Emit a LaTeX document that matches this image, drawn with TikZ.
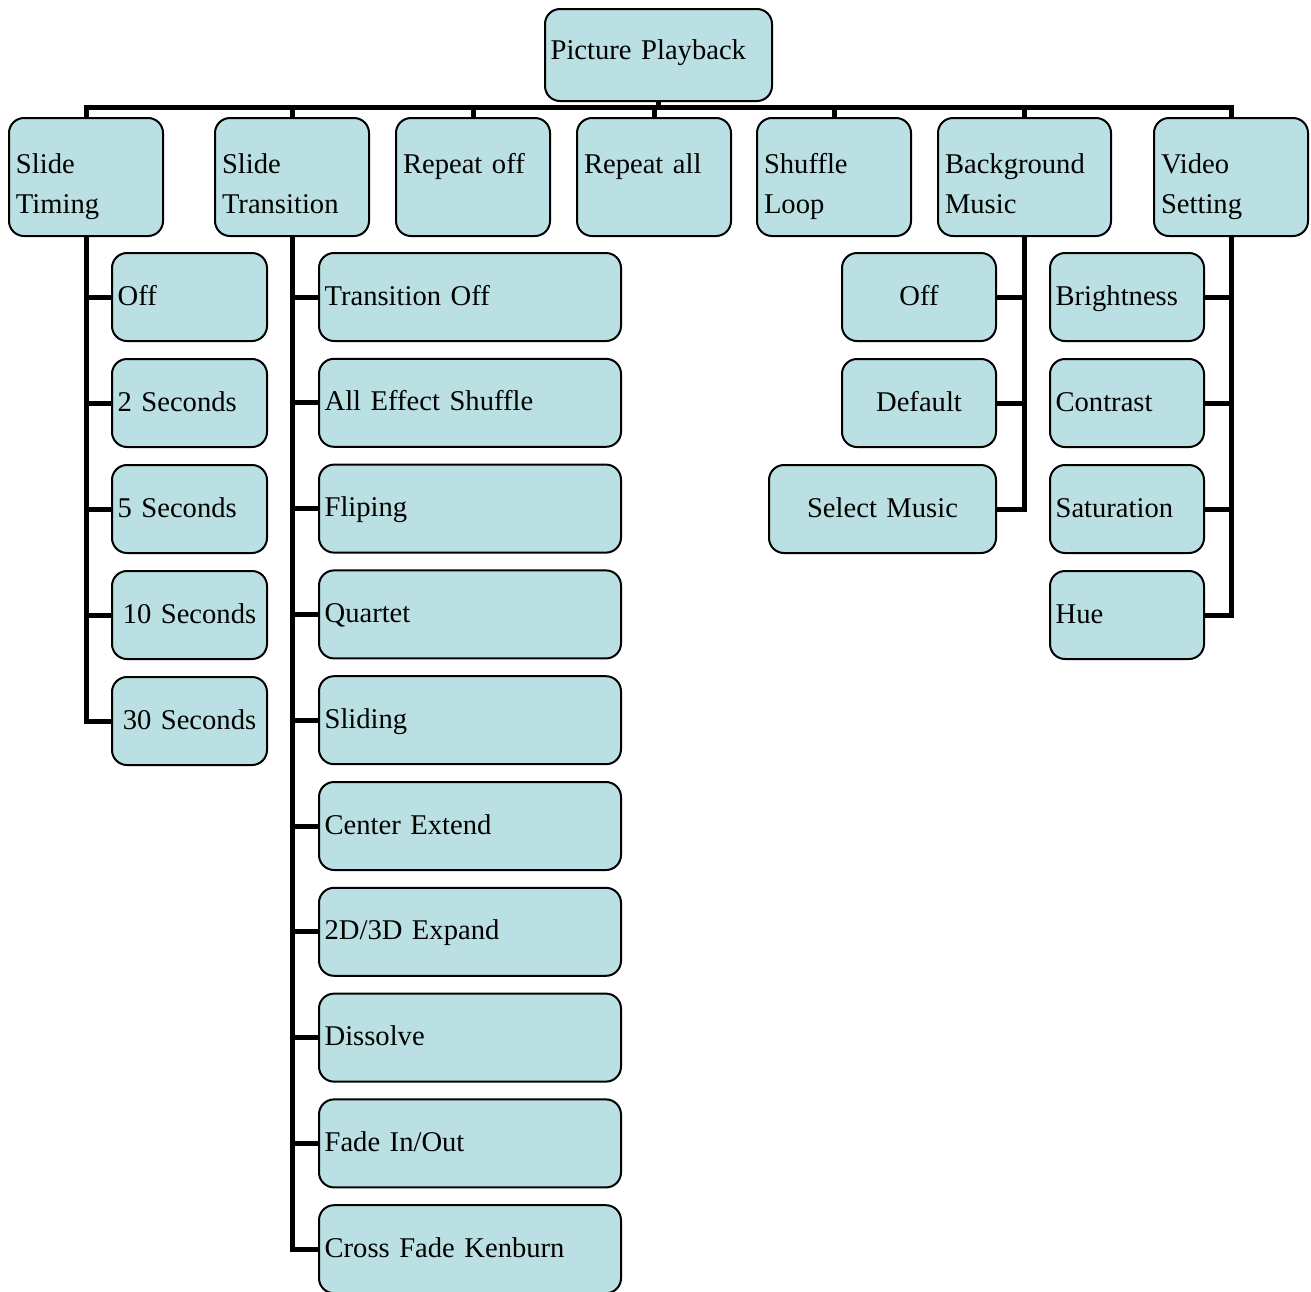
\documentclass[tikz,border=0pt]{standalone}
\usepackage{fontspec}
\setmainfont{Liberation Serif}
\definecolor{menufill}{RGB}{186,224,227}

\begin{document}
\begin{tikzpicture}[x=0.5pt,y=-0.5pt,
  menu/.style={draw=black,fill=menufill,line width=1pt,rounded corners=7.5pt,anchor=north west,
    inner xsep=2.8pt,inner ysep=0pt,font=\fontsize{14.3pt}{20pt}\selectfont},
  head/.style={menu,text width=#1,align=left,inner xsep=3.5pt,text height=27.5pt,text depth=31.5pt},
  item/.style={menu,text width=#1,text height=26pt,text depth=18pt},
  link/.style={line width=2.5pt}]
  \useasboundingbox (0,0) rectangle (1311,1291);
  % top level
  \node[menu,text width=107.9pt,align=left,text height=25pt,text depth=21pt] (root) at (544,8) {Picture Playback};
  \node[head=70pt] (timing) at (8,117) {Slide\\Timing};
  \node[head=70pt] (trans) at (214,117) {Slide\\Transition};
  \node[head=70pt] (repoff) at (395,117) {Repeat off};
  \node[head=70pt] (repall) at (576,117) {Repeat all};
  \node[head=70pt] (shuffle) at (756,117) {Shuffle\\Loop};
  \node[head=79.5pt] (music) at (937,117) {Background\\Music};
  \node[head=70pt] (video) at (1153,117) {Video\\Setting};
  \coordinate (bus) at (0,107);
  \foreach \n in {timing,trans,repoff,repall,shuffle,music,video}
    \draw[link] (root.south) -- (root.south |- bus) -| (\n.north);
  % slide timing
  \foreach \a/\t [count=\i from 0] in {left/Off,left/2 Seconds,left/5 Seconds,center/10 Seconds,center/30 Seconds} {
    \node[item=71.9pt,align=\a] (timing\i) at (111,{252+106*\i}) {\t};
    \draw[link] (timing.south) |- (timing\i.west);
  }
  % slide transition
  \foreach \t [count=\i from 0] in {Transition Off,All Effect Shuffle,Fliping,Quartet,Sliding,Center Extend,2D/3D Expand,Dissolve,Fade In/Out,Cross Fade Kenburn} {
    \node[item=145.4pt,align=left] (trans\i) at (318,{252+105.8*\i}) {\t};
    \draw[link] (trans.south) |- (trans\i.west);
  }
  % background music
  \foreach \w/\t [count=\i from 0] in {71.4pt/Off,71.4pt/Default,107.9pt/Select Music} {
    \node[item=\w,align=center,anchor=north east] (music\i) at (997,{252+106*\i}) {\t};
    \draw[link] (music.south) |- (music\i.east);
  }
  % video setting
  \foreach \t [count=\i from 0] in {Brightness,Contrast,Saturation,Hue} {
    \node[item=71.4pt,align=left] (video\i) at (1049,{252+106*\i}) {\t};
    \draw[link] (video.south) |- (video\i.east);
  }
\end{tikzpicture}
\end{document}
